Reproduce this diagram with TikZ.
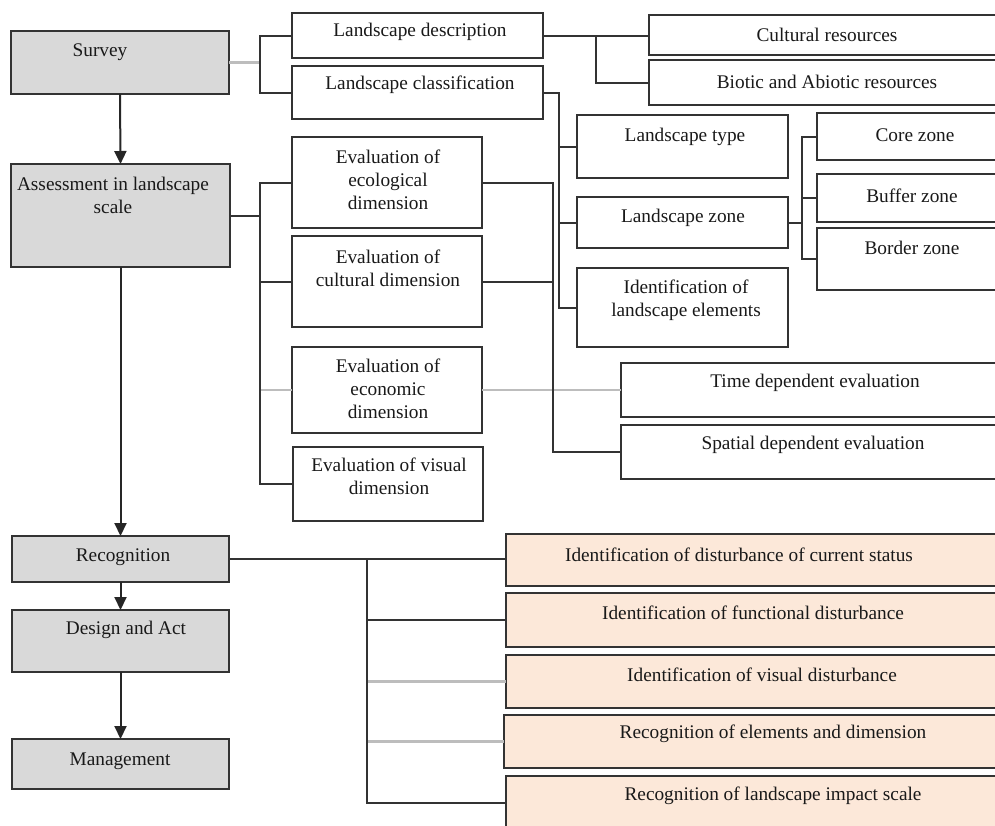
\documentclass[tikz,border=0pt]{standalone}
\usepackage{fontspec}
\setmainfont{Liberation Serif}
\usetikzlibrary{arrows.meta}
\definecolor{bordc}{HTML}{333333}
\definecolor{lgray}{HTML}{BDBDBD}
\definecolor{boxgray}{HTML}{D9D9D9}
\definecolor{peach}{HTML}{FCE8D9}
\newcommand\bx[6]{\node[#1, minimum width={#5-#3}, minimum height={#6-#4}] (#2) at ({(#3+#5)/2},{(#4+#6)/2}) {};}
\tikzset{
  basebox/.style={draw=bordc, line width=2.2pt, inner sep=0pt, outer sep=0pt, rectangle},
  graybox/.style={basebox, fill=boxgray},
  whitebox/.style={basebox, fill=white},
  peachbox/.style={basebox, fill=peach},
  txt/.style={inner sep=0pt, align=center, text=black!90, font=\fontsize{19.3}{23}\selectfont},
  conn/.style={draw=bordc, line width=2pt},
  gconn/.style={draw=lgray, line width=2.6pt},
  flow/.style={draw=black!85, line width=2pt, -{Triangle[length=13pt,width=12pt]}}
}
\begin{document}
\begin{tikzpicture}[x=1pt,y=-1pt]
\useasboundingbox[fill=white] (0,0) rectangle (995,825);
\clip (0,0) rectangle (995,825);
\bx{graybox}{survey}{11}{31}{229}{94}
\bx{graybox}{assess}{11}{164}{230}{267}
\bx{graybox}{recog}{12}{536}{229}{582}
\bx{graybox}{design}{12}{610}{229}{672}
\bx{graybox}{manage}{12}{739}{229}{789}
\bx{whitebox}{desc}{292}{13}{543}{58}
\bx{whitebox}{class}{292}{66}{543}{119}
\bx{whitebox}{cult}{649}{15}{1010}{55}
\bx{whitebox}{biot}{649}{60}{1010}{105}
\bx{whitebox}{ltype}{577}{115}{788}{178}
\bx{whitebox}{lzone}{577}{197}{788}{248}
\bx{whitebox}{lelem}{577}{268}{788}{347}
\bx{whitebox}{core}{817}{113}{1010}{160}
\bx{whitebox}{buffer}{817}{174}{1010}{222}
\bx{whitebox}{border}{817}{228}{1010}{290}
\bx{whitebox}{eco}{292}{137}{482}{228}
\bx{whitebox}{cultd}{292}{236}{482}{327}
\bx{whitebox}{econ}{292}{347}{482}{433}
\bx{whitebox}{vis}{293}{447}{483}{521}
\bx{whitebox}{time}{621}{363}{1010}{417}
\bx{whitebox}{spat}{621}{425}{1010}{479}
\bx{peachbox}{p1}{506}{534}{1010}{586}
\bx{peachbox}{p2}{506}{593}{1010}{647}
\bx{peachbox}{p3}{506}{655}{1010}{708}
\bx{peachbox}{p4}{504}{715}{1010}{768}
\bx{peachbox}{p5}{506}{776}{1010}{830}
% junction coordinates
\coordinate (j1) at (260,62.5);
\coordinate (j2) at (260,215.5);
\coordinate (j3) at (596,35.5);
\coordinate (j4) at (559,92.5);
\coordinate (j5) at (802,222.5);
\coordinate (j6) at (553,182.5);
\coordinate (j7) at (367,559);
% gray connectors
\draw[gconn] (survey.east) -- (j1);
\draw[gconn] (econ.west) -- (econ.west -| j2);
\draw[gconn] (econ.east) -- (econ.east -| time.west);
\draw[gconn] (p3.west) -- (p3.west -| j7);
\draw[gconn] (p4.west) -- (p4.west -| j7);
% dark connectors
\draw[conn] (desc.west) -| (j1) |- (class.west);
\draw[conn] (assess.east) -- (j2);
\draw[conn] (eco.west) -| (j2) |- (vis.west);
\draw[conn] (cultd.west) -- (cultd.west -| j2);
\draw[conn] (desc.east) -- (desc.east -| cult.west);
\draw[conn] (j3) |- (biot.west);
\draw[conn] (class.east) -- (j4) |- (lelem.west);
\draw[conn] (ltype.west) -- (ltype.west -| j4);
\draw[conn] (lzone.west) -- (lzone.west -| j4);
\draw[conn] (lzone.east) -- (j5);
\draw[conn] (core.west) -| (j5) |- (border.west);
\draw[conn] (buffer.west) -- (buffer.west -| j5);
\draw[conn] (eco.east) -- (j6) |- (spat.west);
\draw[conn] (cultd.east) -- (cultd.east -| j6);
\draw[conn] (recog.east) -- (recog.east -| p1.west);
\draw[conn] (j7) |- (p5.west);
\draw[conn] (p2.west) -- (p2.west -| j7);
% flow arrows
\draw[flow] (survey.south) -- (assess.north);
\draw[flow] (assess.south) -- (recog.north);
\draw[flow] (recog.south) -- (design.north);
\draw[flow] (design.south) -- (manage.north);
% texts
\node[txt] (t-survey) at (100,52) {Survey};
\node[txt] (t-assess) at (113,195) {Assessment in landscape\\scale};
\node[txt] (t-recog) at (123,557) {Recognition};
\node[txt] (t-design) at (126,630) {Design and Act};
\node[txt] (t-manage) at (120,761) {Management};
\node[txt] (t-desc) at (420,32) {Landscape description};
\node[txt] (t-class) at (420,85) {Landscape classification};
\node[txt] (t-cult) at (827,35) {Cultural resources};
\node[txt] (t-biot) at (827,82) {Biotic and Abiotic resources};
\node[txt] (t-ltype) at (685,137) {Landscape type};
\node[txt] (t-lzone) at (683,218) {Landscape zone};
\node[txt] (t-lelem) at (686,300) {Identification of\\landscape elements};
\node[txt] (t-core) at (915,135) {Core zone};
\node[txt] (t-buffer) at (912,196) {Buffer zone};
\node[txt] (t-border) at (912,248) {Border zone};
\node[txt] (t-eco) at (388,180) {Evaluation of\\ecological\\dimension};
\node[txt] (t-cultd) at (388,268) {Evaluation of\\cultural dimension};
\node[txt] (t-econ) at (388,389) {Evaluation of\\economic\\dimension};
\node[txt] (t-vis) at (389,476) {Evaluation of visual\\dimension};
\node[txt] (t-time) at (815,383) {Time dependent evaluation};
\node[txt] (t-spat) at (813,445) {Spatial dependent evaluation};
\node[txt] (t-p1) at (739,555) {Identification of disturbance of current status};
\node[txt] (t-p2) at (753,613) {Identification of functional disturbance};
\node[txt] (t-p3) at (762,675) {Identification of visual disturbance};
\node[txt] (t-p4) at (773,734) {Recognition of elements and dimension};
\node[txt] (t-p5) at (773,796) {Recognition of landscape impact scale};
\end{tikzpicture}
\end{document}
